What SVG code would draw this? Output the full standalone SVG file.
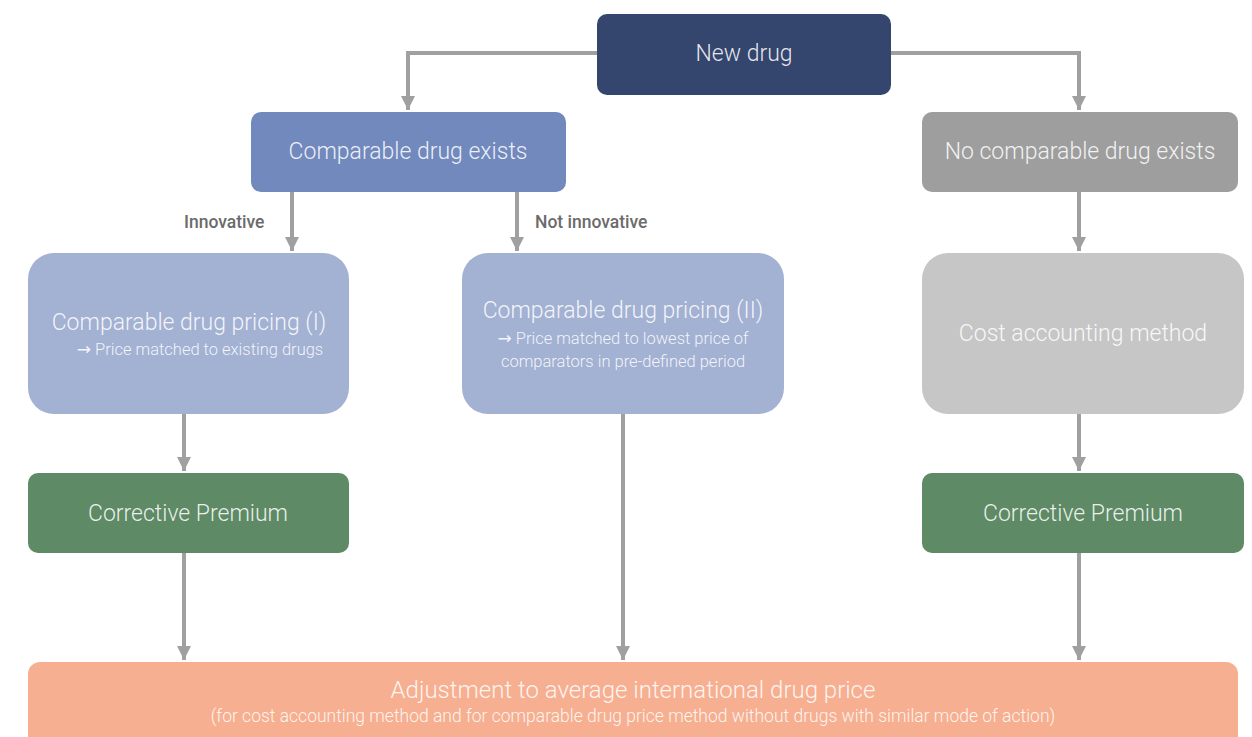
<svg xmlns="http://www.w3.org/2000/svg" width="1252" height="737" viewBox="0 0 1252 737">
<defs>
<marker id="ah" viewBox="0 0 10 10" refX="10" refY="5" markerWidth="3.5" markerHeight="3.5" orient="auto" markerUnits="strokeWidth">
<path d="M0,0 L10,5 L0,10 z" fill="#a0a0a0"/>
</marker>
<style>
.t{font-family:Roboto,"Liberation Sans",sans-serif;font-weight:300;fill:#ffffff;fill-opacity:0.88;text-anchor:middle}
.big{font-size:23px}
.sm{font-size:16.5px}
.lbl{font-family:Roboto,"Liberation Sans",sans-serif;font-weight:500;font-size:17.5px;fill:#6b6b6b}
.c{fill:none;stroke:#a0a0a0;stroke-width:4;marker-end:url(#ah)}
</style>
</defs>
<rect width="1252" height="737" fill="#ffffff"/>
<g id="connectors">
<path class="c" d="M597,53 H408 V110"/>
<path class="c" d="M891,53 H1079 V110"/>
<path class="c" d="M292,192 V251"/>
<path class="c" d="M517,192 V251"/>
<path class="c" d="M1079,192 V251"/>
<path class="c" d="M184,414 V471"/>
<path class="c" d="M1079,414 V471"/>
<path class="c" d="M184,553 V660"/>
<path class="c" d="M623,414 V660"/>
<path class="c" d="M1079,553 V660"/>
<text class="lbl" x="184" y="228">Innovative</text>
<text class="lbl" x="535" y="228">Not innovative</text>
</g>
<g id="new-drug">
<rect x="597" y="14" width="294" height="81" rx="10" fill="#34466e"/>
<text class="t big" x="744" y="61">New drug</text>
</g>
<g id="comparable-exists">
<rect x="251" y="112" width="315" height="80" rx="10" fill="#7289bd"/>
<text class="t big" x="408" y="159">Comparable drug exists</text>
</g>
<g id="no-comparable">
<rect x="922" y="112" width="316" height="80" rx="10" fill="#9e9e9e"/>
<text class="t big" x="1080" y="159">No comparable drug exists</text>
</g>
<g id="pricing-1">
<rect x="28" y="253" width="321" height="161" rx="26" fill="#a3b1d3"/>
<text class="t big" x="189" y="330">Comparable drug pricing (I)</text>
<text class="t sm" x="200" y="355"><tspan style="font-family:'DejaVu Sans',sans-serif;font-size:17px;font-weight:400">→</tspan> Price matched to existing drugs</text>
</g>
<g id="pricing-2">
<rect x="462" y="253" width="322" height="161" rx="26" fill="#a3b1d3"/>
<text class="t big" x="623" y="318">Comparable drug pricing (II)</text>
<text class="t sm" x="623" y="344"><tspan style="font-family:'DejaVu Sans',sans-serif;font-size:17px;font-weight:400">→</tspan> Price matched to lowest price of</text>
<text class="t sm" x="623" y="367">comparators in pre-defined period</text>
</g>
<g id="cost-accounting">
<rect x="922" y="253" width="322" height="161" rx="26" fill="#c6c6c6"/>
<text class="t big" x="1083" y="341">Cost accounting method</text>
</g>
<g id="premium-left">
<rect x="28" y="473" width="321" height="80" rx="10" fill="#5e8a66"/>
<text class="t big" x="188" y="521">Corrective Premium</text>
</g>
<g id="premium-right">
<rect x="922" y="473" width="322" height="80" rx="10" fill="#5e8a66"/>
<text class="t big" x="1083" y="521">Corrective Premium</text>
</g>
<g id="adjustment">
<rect x="28" y="662" width="1210" height="95" rx="12" fill="#f6b091"/>
<text class="t" style="font-size:24px" x="633" y="698">Adjustment to average international drug price</text>
<text class="t" style="font-size:17.5px" x="633" y="722">(for cost accounting method and for comparable drug price method without drugs with similar mode of action)</text>
</g>
</svg>
